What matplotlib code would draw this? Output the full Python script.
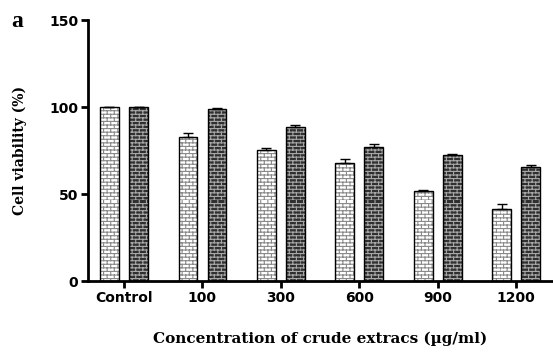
import numpy as np
import matplotlib
matplotlib.use("Agg")
import matplotlib.pyplot as plt
import matplotlib.hatch as mhatch
from matplotlib.path import Path

# brick hatch: takes over the '*' character (stars are not used here)
class BrickHatch(mhatch.HatchPatternBase):
    def __init__(self, hatch, density):
        self.n = hatch.count('*')
        self.rows = 28
        self.cols = 14
        if self.n:
            self.num_lines = self.rows + self.rows * self.cols
        else:
            self.num_lines = 0
        self.num_vertices = self.num_lines * 2

    def set_vertices_and_codes(self, vertices, codes):
        k = 0
        for i in range(self.rows):
            y0 = i / self.rows
            y1 = (i + 1) / self.rows
            vertices[k] = (0.0, y0)
            vertices[k + 1] = (1.0, y0)
            k += 2
            off = 0.5 * (i % 2) / self.cols
            for j in range(self.cols):
                x = j / self.cols + off
                vertices[k] = (x, y0)
                vertices[k + 1] = (x, y1)
                k += 2
        codes[0::2] = Path.MOVETO
        codes[1::2] = Path.LINETO

mhatch._hatch_types = [h for h in mhatch._hatch_types if h is not mhatch.Stars] + [BrickHatch]

groups = ['Control', '100', '300', '600', '900', '1200']
light_vals = [100, 82.5, 75.5, 68, 51.5, 41.5]
light_err = [0, 2.5, 0.8, 2.3, 0.8, 2.8]
dark_vals = [100, 98.7, 88.8, 77.2, 72.4, 65.7]
dark_err = [0, 0.7, 0.6, 1.4, 0.8, 0.8]

plt.rcParams['hatch.linewidth'] = 0.8
fig = plt.figure(figsize=(5.53, 3.58), dpi=100)
ax = fig.add_axes([0.159, 0.215, 0.841, 0.729])

x = np.arange(len(groups))
w = 0.24
off = 0.185

ax.bar(x - off, light_vals, w, color='white', edgecolor='#8a8a8a', hatch='*', linewidth=0)
ax.bar(x - off, light_vals, w, fill=False, edgecolor='black', linewidth=1.0)
ax.bar(x + off, dark_vals, w, color='#303030', edgecolor='#a8a8a8', hatch='*', linewidth=0)
ax.bar(x + off, dark_vals, w, fill=False, edgecolor='black', linewidth=1.0)

ax.errorbar(x - off, light_vals, yerr=[np.zeros(len(x)), light_err], fmt='none',
            ecolor='black', elinewidth=1, capsize=3.6, capthick=1)
ax.errorbar(x + off, dark_vals, yerr=[np.zeros(len(x)), dark_err], fmt='none',
            ecolor='black', elinewidth=1, capsize=3.6, capthick=1)

ax.set_xlim(-0.46, 5.47)
ax.set_ylim(0, 150)
ax.set_yticks([0, 50, 100, 150])
ax.set_xticks(x)
ax.set_xticklabels(groups)

for s in ['top', 'right']:
    ax.spines[s].set_visible(False)
for s in ['left', 'bottom']:
    ax.spines[s].set_linewidth(2)

ax.tick_params(axis='both', direction='out', length=5, width=2, labelsize=10, pad=2)
for lab in ax.get_xticklabels() + ax.get_yticklabels():
    lab.set_fontfamily('DejaVu Sans')
    lab.set_fontweight('bold')

ax.set_ylabel('Cell viability (%)', fontfamily='DejaVu Serif', fontweight='bold',
              fontsize=10, labelpad=16)
ax.set_xlabel('Concentration of crude extracs (\u00b5g/ml)', fontfamily='DejaVu Serif',
              fontweight='bold', fontsize=11, labelpad=19)
fig.text(0.02, 0.925, 'a', fontfamily='Liberation Serif', fontweight='bold', fontsize=17)

fig.savefig('out.png', dpi=100)
